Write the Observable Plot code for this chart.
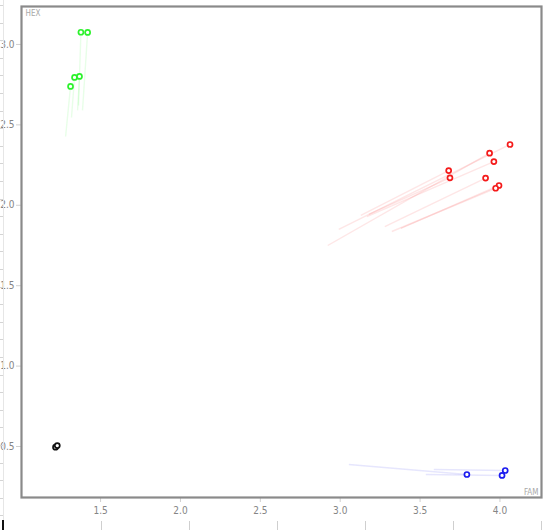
<!DOCTYPE html>
<html><head><meta charset="utf-8">
<script src="https://cdn.jsdelivr.net/npm/d3@7"></script>
<script src="https://cdn.jsdelivr.net/npm/@observablehq/plot@0.6"></script>
<style>
body{margin:0;background:#fff;font-family:"DejaVu Sans Condensed","DejaVu Sans",sans-serif;}
#wrap{position:relative;width:545px;height:530px;overflow:hidden;}
#ruler{position:absolute;left:0;top:0;width:3px;height:530px;border-right:1px solid #e6e6e6;
  background:repeating-linear-gradient(to bottom, transparent 0 5px, #d4d4d4 5px 6px, transparent 6px 17.6px);}
#bottom{position:absolute;left:101px;top:521px;width:444px;height:9px;
  background:repeating-linear-gradient(to right, #cfcfcf 0 1px, transparent 1px 88px);}
#mark{position:absolute;left:2px;top:520px;width:2px;height:10px;background:#111;}
#chart{position:absolute;left:0;top:0;}
</style></head>
<body>
<div id="wrap"><div id="chart"></div><div id="ruler"></div><div id="bottom"></div><div id="mark"></div></div>
<script>
// group of each point
const group   = ["g","g","g","g","g", "r","r","r","r","r","r","r","r", "b","b","b", "k","k"];
// current position (FAM, HEX)
const fam     = [1.377,1.419,1.312,1.337,1.368, 4.063,3.935,3.962,3.679,3.687,3.910,3.994,3.973, 3.793,4.013,4.033, 1.218,1.229];
const hex     = [3.076,3.075,2.739,2.795,2.801, 2.378,2.324,2.272,2.216,2.171,2.169,2.123,2.106, 0.326,0.320,0.351, 0.496,0.506];
// previous position (start of the trail)
const famFrom = [1.362,1.387,1.281,1.318,1.356, 2.991,2.922,3.167,3.129,3.179,3.279,3.380,3.323, 3.054,3.536,3.586, null,null];
const hexFrom = [2.621,2.590,2.428,2.546,2.590, 1.850,1.750,1.930,1.937,1.943,1.868,1.856,1.837, 0.388,0.326,0.357, null,null];

const groups      = ["g","r","b","k"];
const groupColors = ["#2cf22c","#f41a1a","#1c1cf0","#111111"];
const xTicks = [1.5,2.0,2.5,3.0,3.5,4.0];
const yTicks = [0.5,1.0,1.5,2.0,2.5,3.0];
const xLabel = "FAM", yLabel = "HEX";

const rows = group.map((g,i)=>({g, x:fam[i], y:hex[i], x0:famFrom[i], y0:hexFrom[i]}));
const trails = rows.filter(d=>d.x0!=null);

const chart = Plot.plot({
  width:545, height:520,
  marginLeft:21, marginRight:4, marginTop:6, marginBottom:23,
  style:{fontFamily:"'DejaVu Sans Condensed','DejaVu Sans',sans-serif", fontSize:"10px", background:"transparent"},
  x:{domain:[1.005,4.26]},
  y:{domain:[0.183,3.236]},
  color:{domain:groups, range:groupColors},
  marks:[
    Plot.axisX({ticks:xTicks, tickFormat:d3.format(".1f"), tickSize:5, tickPadding:4, stroke:"#d0d0d0", fill:"#858585", fontSize:10, label:null}),
    Plot.axisY({ticks:yTicks, tickFormat:d3.format(".1f"), tickSize:5, tickPadding:2, stroke:"#d0d0d0", fill:"#858585", fontSize:10, label:null}),
    Plot.link(trails, {x1:"x0", y1:"y0", x2:"x", y2:"y", stroke:"g", strokeOpacity:0.11, strokeWidth:1.4}),
    Plot.dot(rows, {x:"x", y:"y", stroke:"g", r:2.5, strokeWidth:1.7, fill:"white"}),
    Plot.frame({stroke:"#8a8a8a", strokeWidth:2.2}),
    Plot.text([yLabel], {frameAnchor:"top-left", dx:4, dy:4, text:d=>d, fill:"#a8a8a8", fontSize:8}),
    Plot.text([xLabel], {frameAnchor:"bottom-right", dx:-3, dy:-3, text:d=>d, fill:"#a8a8a8", fontSize:8})
  ]
});
document.getElementById("chart").appendChild(chart);
</script>
</body></html>
